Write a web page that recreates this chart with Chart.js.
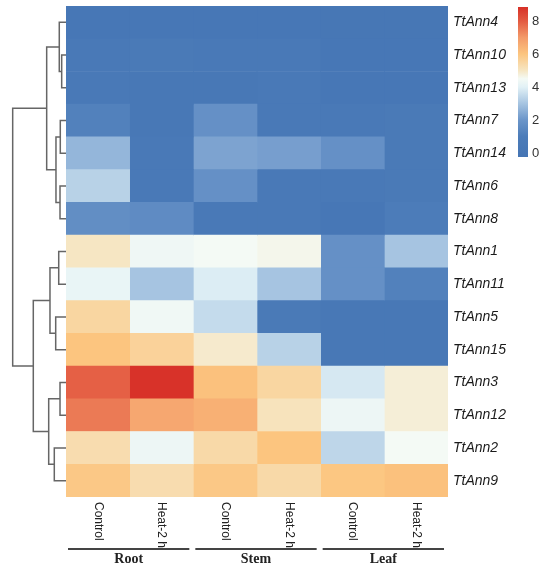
<!DOCTYPE html>
<html>
<head>
<meta charset="utf-8">
<script src="https://cdn.jsdelivr.net/npm/chart.js@4.4.1/dist/chart.umd.min.js"></script>
<style>
  html, body { margin: 0; padding: 0; background: #ffffff; }
  #wrap { position: relative; width: 550px; height: 571px; }
  canvas { position: absolute; left: 0; top: 0; }
</style>
</head>
<body>
<div id="wrap">
  <canvas id="heat" width="550" height="571"></canvas>
  <canvas id="dend" width="550" height="571"></canvas>
  <canvas id="bar" width="550" height="571"></canvas>
</div>
<script>
// ---------------- DATA ----------------
const genes = ['TtAnn4','TtAnn10','TtAnn13','TtAnn7','TtAnn14','TtAnn6','TtAnn8','TtAnn1','TtAnn11','TtAnn5','TtAnn15','TtAnn3','TtAnn12','TtAnn2','TtAnn9'];
const conditions = ['Control','Heat-2 h','Control','Heat-2 h','Control','Heat-2 h'];
const tissues = ['Root','Stem','Leaf'];

const rootControl = [0.2, 0.5, 0.5, 1.2, 2.7, 3.3, 1.7, 5.0, 4.2, 5.5, 6.0, 7.9, 7.5, 5.3, 5.9];
const rootHeat    = [0.2, 0.6, 0.3, 0.3, 0.4, 0.5, 1.6, 4.35, 3.0, 4.4, 5.6, 8.8, 6.7, 4.3, 5.3];
const stemControl = [0.2, 0.4, 0.3, 1.8, 2.3, 1.8, 0.4, 4.5, 3.9, 3.5, 4.9, 6.1, 6.5, 5.4, 5.9];
const stemHeat    = [0.2, 0.4, 0.4, 0.5, 2.2, 0.4, 0.4, 4.6, 3.0, 0.6, 3.3, 5.5, 5.1, 6.0, 5.4];
const leafControl = [0.1, 0.2, 0.2, 0.5, 1.8, 0.5, 0.2, 1.8, 1.8, 0.3, 0.3, 3.8, 4.3, 3.4, 5.95];
const leafHeat    = [0.1, 0.2, 0.2, 0.6, 0.6, 0.6, 1.0, 3.0, 1.2, 0.3, 0.3, 4.8, 4.8, 4.5, 6.1];
const columns = [rootControl, rootHeat, stemControl, stemHeat, leafControl, leafHeat];

// hclust-style merges: negative = leaf (-(row+1)), positive = earlier merge (1-based)
const mergeA = [-2, -1, -4, -6, 3, 2, -8, -10, 7, -12, -14, 10, 9, 6];
const mergeB = [-3,  1, -5, -7, 4, 5, -9, -11, 8, -13, -15, 11, 12, 13];
const mergeH = [0.77, 1.20, 1.02, 1.07, 1.79, 3.45, 1.30, 1.84, 2.86, 1.07, 2.09, 3.09, 5.84, 9.52];

const legendTicks = [0, 2, 4, 6, 8];
const legendLow = -0.24, legendHigh = 8.85;

// ---------------- COLOUR MAP ----------------
const stops = [
  [-0.24, [69,117,180]], [1.0, [76,124,185]], [2.0, [107,149,201]], [3.0, [166,196,225]],
  [4.0, [226,241,246]], [4.5, [244,250,245]], [5.0, [246,230,195]], [6.0, [252,197,127]],
  [7.0, [243,154,105]], [8.0, [227,90,65]], [8.85, [215,48,39]]
];
function colorFor(v) {
  if (v <= stops[0][0]) return 'rgb(' + stops[0][1].join(',') + ')';
  for (let i = 1; i < stops.length; i++) {
    if (v <= stops[i][0]) {
      const [v0, c0] = stops[i-1], [v1, c1] = stops[i];
      const t = (v - v0) / (v1 - v0);
      const c = c0.map((a, k) => Math.round(a + (c1[k] - a) * t));
      return 'rgb(' + c.join(',') + ')';
    }
  }
  return 'rgb(' + stops[stops.length-1][1].join(',') + ')';
}

Chart.defaults.font.family = "'Liberation Sans', Arial, sans-serif";
Chart.defaults.color = '#222';

function noPad(s) { s.paddingTop = 0; s.paddingBottom = 0; }

// ---------------- HEATMAP ----------------
const heatDatasets = columns.map((col, j) => ({
  data: genes.map(() => [j, j + 1]),
  backgroundColor: col.map(colorFor),
  borderWidth: 0,
  barPercentage: 1,
  categoryPercentage: 1,
  grouped: false
}));

const decorPlugin = {
  id: 'decor',
  afterDraw(chart) {
    const ctx = chart.ctx;
    const xs = chart.scales.x;
    const area = chart.chartArea;
    ctx.save();
    ctx.fillStyle = '#222';
    ctx.font = "12px 'Liberation Sans', Arial, sans-serif";
    ctx.textAlign = 'left';
    ctx.textBaseline = 'middle';
    conditions.forEach((lab, j) => {
      const x = xs.getPixelForValue(j + 0.5);
      ctx.save();
      ctx.translate(x, area.bottom + 5);
      ctx.rotate(Math.PI / 2);
      ctx.fillText(lab, 0, 0);
      ctx.restore();
    });
    ctx.strokeStyle = '#444';
    ctx.lineWidth = 2;
    ctx.font = "bold 14px 'Liberation Serif', 'Times New Roman', serif";
    ctx.textAlign = 'center';
    tissues.forEach((t, g) => {
      const x0 = xs.getPixelForValue(2 * g) + 2;
      const x1 = xs.getPixelForValue(2 * g + 2) - 4;
      const y = area.bottom + 52;
      ctx.beginPath();
      ctx.moveTo(x0, y);
      ctx.lineTo(x1, y);
      ctx.stroke();
      ctx.fillText(t, (x0 + x1) / 2, y + 10);
    });
    ctx.restore();
  }
};

new Chart(document.getElementById('heat'), {
  type: 'bar',
  data: { labels: genes, datasets: heatDatasets },
  options: {
    indexAxis: 'y',
    responsive: false,
    animation: false,
    events: [],
    layout: { padding: { left: 66, top: 6, bottom: 74, right: 0 } },
    plugins: { legend: { display: false }, tooltip: { enabled: false } },
    scales: {
      x: { type: 'linear', min: 0, max: columns.length, display: false },
      y: {
        type: 'category', position: 'right',
        grid: { display: false, drawTicks: false }, border: { display: false },
        ticks: { padding: 5, color: '#1a1a1a', font: { size: 14, style: 'italic' }, autoSkip: false },
        afterFit(s) { s.width = 102; noPad(s); }
      }
    }
  },
  plugins: [decorPlugin]
});

// ---------------- COLOUR BAR (legend) ----------------
new Chart(document.getElementById('bar'), {
  type: 'bar',
  data: {
    labels: ['scale'],
    datasets: [{
      data: [[legendLow, legendHigh]],
      backgroundColor(ctx) {
        const area = ctx.chart.chartArea;
        if (!area) return '#4575b4';
        const ys = ctx.chart.scales.y;
        const g = ctx.chart.ctx.createLinearGradient(0, ys.getPixelForValue(legendLow), 0, ys.getPixelForValue(legendHigh));
        stops.forEach(([v, c]) => g.addColorStop((v - legendLow) / (legendHigh - legendLow), 'rgb(' + c.join(',') + ')'));
        return g;
      },
      borderWidth: 0, barThickness: 10
    }]
  },
  options: {
    responsive: false,
    animation: false,
    events: [],
    layout: { padding: { left: 518, top: 7, bottom: 414, right: 0 } },
    plugins: { legend: { display: false }, tooltip: { enabled: false } },
    scales: {
      x: { type: 'category', display: false, offset: true },
      y: {
        type: 'linear', position: 'right', min: legendLow, max: legendHigh,
        grid: { display: false, drawTicks: false }, border: { display: false },
        ticks: { padding: 4, color: '#333', font: { size: 13 }, autoSkip: false },
        afterBuildTicks(s) { s.ticks = legendTicks.map(v => ({ value: v })); },
        afterFit(s) { s.width = 22; noPad(s); }
      }
    }
  }
});

// ---------------- DENDROGRAM ----------------
const nodePos = [];
function posOf(ref) {
  if (ref < 0) return [0, (-ref - 1) + 0.5];
  return nodePos[ref - 1];
}
const dendDatasets = [];
mergeH.forEach((h, i) => {
  const a = posOf(mergeA[i]);
  const b = posOf(mergeB[i]);
  nodePos.push([h, (a[1] + b[1]) / 2]);
  dendDatasets.push({
    data: [{ x: a[0], y: a[1] }, { x: h, y: a[1] }, { x: h, y: b[1] }, { x: b[0], y: b[1] }],
    showLine: true, borderColor: '#666', borderWidth: 1.5, pointRadius: 0,
    tension: 0, clip: false, fill: false
  });
});

new Chart(document.getElementById('dend'), {
  type: 'scatter',
  data: { datasets: dendDatasets },
  options: {
    responsive: false,
    animation: false,
    events: [],
    layout: { padding: { left: 10, right: 484, top: 6, bottom: 74 } },
    plugins: { legend: { display: false }, tooltip: { enabled: false } },
    scales: {
      x: { type: 'linear', min: 0, max: 10, reverse: true, display: false },
      y: { type: 'linear', min: 0, max: genes.length, reverse: true, display: false }
    }
  }
});
</script>
</body>
</html>
